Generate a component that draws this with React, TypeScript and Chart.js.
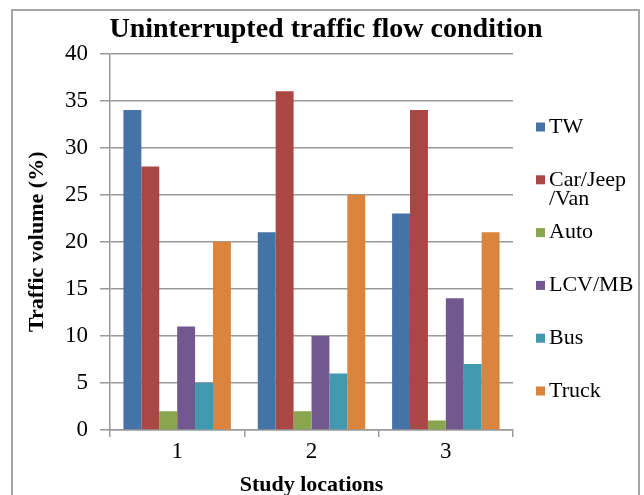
import React, { useEffect, useRef } from "react";
import { Chart, registerables } from "chart.js";

Chart.register(...registerables);

const categories = ["1", "2", "3"];
const seriesNames = ["TW", "Car/Jeep\n/Van", "Auto", "LCV/MB", "Bus", "Truck"];
const tw = [34, 21, 23];
const carJeepVan = [28, 36, 34];
const auto = [2, 2, 1];
const lcvMb = [11, 10, 14];
const bus = [5, 6, 7];
const truck = [20, 25, 21];
const seriesColors = ["#4572A7", "#AA4643", "#89A54E", "#71588F", "#4198AF", "#DB843D"];
const yTicks = [0, 5, 10, 15, 20, 25, 30, 35, 40];
const chartTitle = "Uninterrupted traffic flow condition";
const xTitle = "Study locations";
const yTitle = "Traffic volume (%)";

const FONT = "'Liberation Serif', 'Times New Roman', serif";

const decorPlugin = {
  id: "decor",
  afterDraw(chart: any) {
    const ctx = chart.ctx;
    ctx.save();
    // outer frame
    ctx.strokeStyle = "#a6a6a6";
    ctx.lineWidth = 2;
    ctx.strokeRect(12, 10, 627, 600);
    // title
    ctx.fillStyle = "#000";
    ctx.font = `bold 28px ${FONT}`;
    ctx.textAlign = "center";
    ctx.textBaseline = "middle";
    ctx.fillText(chartTitle, chart.width / 2 + 4, 30);
    // legend
    const lx = 536;
    const startY = 127;
    const step = 52.8;
    ctx.font = `22px ${FONT}`;
    ctx.textAlign = "left";
    chart.data.datasets.forEach((ds: any, i: number) => {
      const cy = startY + i * step;
      ctx.fillStyle = ds.backgroundColor;
      ctx.fillRect(lx, cy - 4.5, 9, 9);
      ctx.fillStyle = "#000";
      const lines = String(ds.label).split("\n");
      lines.forEach((ln: string, j: number) => {
        ctx.fillText(ln, lx + 13, cy + j * 19);
      });
    });
    ctx.restore();
  },
};

export default function App() {
  const ref = useRef<HTMLCanvasElement | null>(null);
  useEffect(() => {
    if (!ref.current) return;
    const values = [tw, carJeepVan, auto, lcvMb, bus, truck];
    const chart = new Chart(ref.current, {
      type: "bar",
      data: {
        labels: categories,
        datasets: values.map((v, i) => ({
          label: seriesNames[i],
          data: v,
          backgroundColor: seriesColors[i],
          borderWidth: 0,
          categoryPercentage: 0.8,
          barPercentage: 1.0,
        })),
      },
      options: {
        animation: false,
        responsive: false,
        layout: { padding: { left: 0, right: 131, top: 53.5, bottom: 0 } },
        plugins: {
          legend: { display: false },
          title: { display: false },
          tooltip: { enabled: false },
        },
        scales: {
          x: {
            type: "category",
            grid: {
              offset: true,
              drawOnChartArea: false,
              drawTicks: true,
              tickLength: 7,
              color: "#999",
              lineWidth: 1.5,
            },
            border: { color: "#999", width: 1.5 },
            ticks: {
              color: "#000",
              font: { family: FONT, size: 23 },
              padding: 1,
            },
            title: {
              display: true,
              text: xTitle,
              color: "#000",
              font: { family: FONT, size: 22, weight: "bold" },
              padding: { top: 0, bottom: -4 },
            },
            afterFit(scale: any) {
              scale.height = 65;
            },
          },
          y: {
            min: 0,
            max: 40,
            afterBuildTicks(scale: any) {
              scale.ticks = yTicks.map((v) => ({ value: v }));
            },
            grid: {
              color: "#999",
              lineWidth: 1.5,
              tickLength: 10,
            },
            border: { color: "#999", width: 1.5 },
            ticks: {
              color: "#000",
              font: { family: FONT, size: 23 },
              padding: 12,
            },
            title: {
              display: true,
              text: yTitle,
              color: "#000",
              font: { family: FONT, size: 22, weight: "bold" },
              padding: { top: 24, bottom: 0 },
            },
            afterFit(scale: any) {
              scale.width = 110;
            },
          },
        },
      },
      plugins: [decorPlugin],
    });
    return () => chart.destroy();
  }, []);
  return (
    <div style={{ position: "absolute", left: 0, top: 0, width: 644, height: 495, overflow: "hidden", background: "#fff" }}>
      <canvas ref={ref} width={644} height={495} style={{ display: "block" }} />
    </div>
  );
}
